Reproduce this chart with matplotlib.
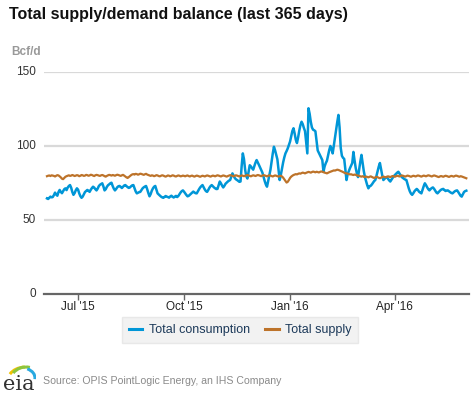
import matplotlib
matplotlib.use("Agg")
import matplotlib.pyplot as plt
from matplotlib.patches import Arc
from matplotlib.lines import Line2D
import pandas as pd

plt.rcParams['font.family'] = ['Liberation Sans', 'DejaVu Sans']

# daily values, Bcf/d, 2015-06-04 .. 2016-06-02
consumption = [
    # Jun 2015
    64.6, 64.2, 65.0, 65.8, 65.3, 65.5, 66.8, 68.5, 67.2, 66.4, 68.9, 70.3, 69.0, 68.1,
    69.5, 70.8, 71.4, 70.2, 71.9, 73.0, 73.6, 71.8, 68.9, 67.0, 68.2, 70.1, 71.4,
    # Jul
    70.5, 68.0, 66.1, 65.0, 65.8, 67.4, 68.9, 69.6, 70.3, 69.8, 69.0, 70.4, 71.6, 72.5,
    71.9, 70.8, 70.0, 71.2, 72.9, 73.8, 74.3, 74.8, 72.6, 70.0, 70.8, 72.4, 73.5, 74.1,
    74.8, 75.2, 73.0,
    # Aug
    71.2, 70.0, 70.9, 72.1, 72.8, 73.0, 72.4, 71.6, 72.5, 73.3, 73.6, 72.9, 72.2, 71.7,
    72.0, 72.8, 73.4, 73.6, 71.5, 69.3, 68.0, 68.4, 68.8, 69.0, 70.2, 71.4, 72.1, 72.6,
    73.0, 70.8, 68.2,
    # Sep
    66.0, 67.5, 69.8, 71.4, 72.5, 73.0, 70.6, 68.0, 67.2, 66.5, 65.8, 65.3, 65.0, 65.6,
    66.2, 65.8, 65.5, 65.1, 65.9, 66.4, 65.7, 65.2, 65.8, 66.3, 65.5, 66.2, 67.4, 68.6,
    69.5, 70.0,
    # Oct
    69.1, 68.0, 66.9, 66.0, 66.3, 67.0, 67.8, 68.5, 69.2, 68.6, 68.1, 68.0, 69.4, 70.8,
    72.0, 72.9, 73.6, 72.1, 70.6, 69.5, 69.0, 70.3, 71.8, 72.9, 73.6, 72.8, 72.0, 71.4,
    70.9, 71.0, 73.5,
    # Nov
    76.0, 74.8, 73.2, 72.0, 73.1, 74.5, 75.3, 76.0, 76.6, 77.0, 79.2, 81.5, 80.0, 78.4,
    77.5, 77.0, 76.4, 75.8, 76.0, 86.5, 95.0, 91.2, 84.0, 79.5, 78.0, 82.6, 87.0, 86.2,
    85.0, 84.0,
    # Dec
    86.5, 88.8, 90.5, 88.9, 87.2, 85.5, 83.8, 82.0, 79.1, 76.3, 74.0, 72.5, 76.4, 80.2,
    84.0, 89.6, 95.0, 99.5, 97.1, 94.0, 91.0, 84.2, 77.0, 80.5, 84.8, 88.9, 92.3, 95.0,
    96.6, 98.4, 100.6,
    # Jan 2016
    103.0, 106.5, 110.1, 112.0, 108.4, 104.2, 102.0, 105.8, 110.3, 114.1, 116.4, 114.8,
    112.2, 110.0, 102.4, 95.0, 125.5, 121.8, 116.3, 112.5, 111.0, 110.6, 110.0, 103.2,
    97.0, 95.4, 93.8, 92.1, 90.5, 82.6, 86.2,
    # Feb
    88.4, 90.0, 93.6, 97.2, 100.0, 97.8, 95.0, 100.4, 106.1, 111.0, 116.3, 121.0, 112.5,
    98.7, 93.4, 92.0, 91.3, 84.2, 77.0, 81.0, 83.1, 85.0, 86.8, 88.5, 96.0, 90.2, 85.1,
    81.5, 79.0,
    # Mar
    84.2, 89.5, 94.0, 88.6, 83.1, 79.0, 76.2, 73.5, 71.4, 72.8, 73.1, 74.0, 75.2, 76.3,
    77.0, 79.8, 82.9, 86.1, 88.5, 84.4, 80.2, 77.0, 77.8, 78.6, 79.0, 77.9, 76.8, 76.0,
    77.2, 78.5, 79.6,
    # Apr
    80.4, 81.3, 82.0, 82.6, 81.4, 80.1, 79.0, 78.4, 77.8, 77.3, 77.0, 74.2, 71.5, 69.3,
    67.8, 67.0, 68.1, 69.4, 70.3, 71.0, 70.2, 69.1, 68.5, 68.0, 70.4, 72.8, 74.8, 73.6,
    72.1, 70.8,
    # May
    70.0, 70.9, 71.6, 72.0, 71.1, 69.8, 68.6, 68.0, 68.9, 69.7, 70.4, 70.8, 71.0, 70.2,
    69.6, 69.9, 70.0, 69.4, 68.8, 68.3, 68.0, 68.7, 69.4, 69.8, 70.0, 68.9, 67.6, 66.4,
    65.8, 67.4, 68.9,
    # Jun
    69.5, 69.8,
]

supply = [
    # Jun 2015
    79.6, 79.9, 80.1, 79.7, 80.2, 80.0, 79.8, 79.4, 79.9, 80.3, 80.1, 79.5, 78.8, 77.9,
    77.6, 78.4, 79.2, 79.6, 79.9, 80.2, 79.8, 80.0, 80.4, 80.1, 79.7, 80.0, 80.3,
    # Jul
    80.1, 79.6, 79.9, 80.4, 80.2, 79.8, 80.0, 80.5, 80.3, 79.9, 80.1, 80.6, 80.4, 80.0,
    79.7, 80.2, 80.5, 80.3, 80.0, 79.8, 80.2, 80.4, 80.1, 79.6, 79.3, 79.8, 80.2, 80.5,
    80.3, 80.0, 80.4,
    # Aug
    80.2, 79.9, 80.3, 80.6, 80.4, 80.1, 79.8, 80.2, 80.5, 80.0, 79.4, 78.8, 78.4, 79.0,
    79.7, 80.3, 80.8, 81.0, 80.7, 81.2, 81.0, 80.6, 80.9, 81.3, 81.1, 80.8, 80.5, 80.9,
    81.2, 80.7, 80.4,
    # Sep
    80.1, 79.8, 80.2, 80.0, 79.6, 79.9, 80.3, 80.1, 79.7, 79.5, 79.9, 80.2, 80.0, 79.6,
    79.3, 79.7, 80.1, 79.9, 79.5, 79.8, 80.2, 80.0, 79.6, 79.4, 79.8, 80.1, 79.9, 79.5,
    79.7, 80.0,
    # Oct
    79.8, 79.5, 79.9, 80.1, 79.7, 79.4, 79.8, 80.0, 79.6, 79.3, 79.7, 80.0, 79.8, 79.5,
    79.2, 79.6, 79.9, 79.7, 79.4, 79.8, 80.1, 79.9, 79.6, 79.3, 79.7, 80.0, 79.8, 79.5,
    79.9, 80.2, 80.0,
    # Nov
    79.7, 79.4, 79.8, 80.1, 79.9, 79.6, 79.3, 79.7, 80.0, 80.3, 80.1, 79.8, 79.5, 79.9,
    80.2, 80.0, 79.7, 79.4, 79.8, 80.1, 79.9, 79.6, 79.8, 80.2, 80.4, 80.1, 79.8, 79.5,
    79.9, 80.2,
    # Dec
    80.0, 79.7, 80.1, 80.4, 80.2, 79.9, 79.6, 80.0, 80.3, 80.1, 79.8, 79.5, 79.9, 80.2,
    80.0, 79.7, 79.4, 79.8, 80.1, 79.9, 79.6, 79.3, 79.7, 79.9, 79.4, 78.6, 77.5, 76.3,
    75.3, 75.8, 77.0,
    # Jan 2016
    78.4, 79.3, 79.9, 80.4, 80.7, 81.0, 80.8, 81.2, 81.5, 81.3, 81.7, 82.0, 81.8, 81.5,
    81.9, 82.2, 82.5, 82.3, 82.0, 82.4, 82.7, 82.5, 82.2, 82.6, 82.4, 82.1, 82.5, 82.8,
    82.6, 82.3, 82.0,
    # Feb
    81.8, 81.5, 81.9, 82.3, 82.6, 82.9, 83.2, 83.5, 83.4, 83.7, 84.0, 83.8, 83.5, 83.1,
    82.8, 82.4, 82.0, 81.6, 81.5, 81.3, 81.0, 80.8, 80.9, 80.6, 80.4, 80.7, 80.5, 80.2,
    80.0,
    # Mar
    79.8, 79.5, 79.3, 79.6, 79.2, 79.0, 79.4, 79.1, 78.8, 79.2, 79.5, 79.1, 78.7, 78.4,
    78.8, 79.2, 78.9, 78.5, 78.2, 78.6, 79.0, 79.3, 79.1, 78.8, 79.2, 79.5, 79.3, 79.0,
    79.4, 79.7, 79.5,
    # Apr
    79.2, 79.6, 79.9, 79.7, 79.4, 79.8, 80.1, 79.9, 79.6, 79.3, 79.7, 80.0, 79.8, 79.5,
    79.2, 79.6, 79.9, 79.7, 79.4, 79.8, 80.1, 79.9, 79.6, 79.3, 79.7, 80.0, 79.8, 79.5,
    79.9, 80.2,
    # May
    80.0, 79.7, 79.4, 79.8, 80.1, 79.9, 79.6, 79.3, 79.0, 79.4, 79.7, 79.5, 79.2, 79.6,
    79.9, 79.7, 79.4, 79.1, 79.5, 79.8, 79.6, 79.3, 79.7, 80.0, 79.8, 79.5, 79.2, 79.6,
    79.4, 79.1, 78.8,
    # Jun
    78.5, 78.2,
]

dates_c = pd.date_range("2015-06-04", periods=len(consumption), freq="D")
dates_s = pd.date_range("2015-06-04", periods=len(supply), freq="D")

tick_dates = pd.to_datetime(["2015-07-01", "2015-10-01", "2016-01-01", "2016-04-01"])
tick_labels = ["Jul '15", "Oct '15", "Jan '16", "Apr '16"]
y_ticks = [0, 50, 100, 150]

blue = "#0096d7"
orange = "#bd732a"

fig = plt.figure(figsize=(4.77, 3.93), dpi=100)
ax = fig.add_axes([44 / 477, 1 - 294 / 393, 425 / 477, 222 / 393])

for y in y_ticks[1:]:
    ax.axhline(y, color="#d9d9d9", lw=1.6, zorder=0)

ax.plot(dates_s, supply, color=orange, lw=1.6, zorder=3)
ax.plot(dates_c, consumption, color=blue, lw=1.8, zorder=2)

ax.set_ylim(0, 150)
ax.set_xlim(pd.Timestamp("2015-06-01 10:00"), pd.Timestamp("2016-06-04 08:00"))
ax.set_yticks(y_ticks)
ax.set_xticks(tick_dates)
ax.set_xticklabels(tick_labels)
for s in ["top", "right", "left"]:
    ax.spines[s].set_visible(False)
ax.spines["bottom"].set_color("#666666")
ax.spines["bottom"].set_linewidth(1.6)
ax.tick_params(axis="y", length=0, pad=6, labelsize=8.5, labelcolor="#333333")
ax.tick_params(axis="x", length=4, width=1, color="#666666", pad=1,
               labelsize=8.5, labelcolor="#222222")
for lab in ax.get_yticklabels():
    lab.set_verticalalignment("center")

fig.text(9 / 477, 1 - 14 / 393, "Total supply/demand balance (last 365 days)",
         fontsize=11.5, fontweight="bold", color="#111111", va="center", ha="left")
fig.text(11 / 477, 1 - 52 / 393, "Bcf/d", fontsize=8.5, fontweight="bold",
         color="#999999", va="center", ha="left")

handles = [Line2D([], [], color=blue, lw=2.2), Line2D([], [], color=orange, lw=2.2)]
leg = fig.legend(handles, ["Total consumption", "Total supply"], ncol=2,
                 loc="center", bbox_to_anchor=(240 / 477, 1 - 330 / 393),
                 frameon=True, fontsize=9, handlelength=1.1, handletextpad=0.5,
                 columnspacing=1.2, borderpad=0.55, fancybox=False)
leg.get_frame().set_facecolor("#efefef")
leg.get_frame().set_edgecolor("#e4e4e4")
for t in leg.get_texts():
    t.set_color("#1d3a5a")

# eia logo
fig.text(19 / 477, 1 - 384 / 393, "eia", fontsize=15, family="DejaVu Serif",
         color="#333333", ha="center", va="center")
lax = fig.add_axes([4 / 477, 1 - 382 / 393, 32 / 477, 20 / 393])
lax.set_xlim(0, 32)
lax.set_ylim(0, 20)
lax.axis("off")
lax.add_patch(Arc((22, 2), 36, 26, theta1=95, theta2=160, color="#f2c200", lw=2.2))
lax.add_patch(Arc((22, 0), 32, 30, theta1=75, theta2=145, color="#8cc63f", lw=2.2))
lax.add_patch(Arc((18, 4), 26, 20, theta1=-5, theta2=60, color="#29a9e0", lw=2.2))

fig.text(43 / 477, 1 - 381 / 393, "Source: OPIS PointLogic Energy, an IHS Company",
         fontsize=7.6, color="#8a8a8a", ha="left", va="center")

fig.savefig("out.png", dpi=100)
